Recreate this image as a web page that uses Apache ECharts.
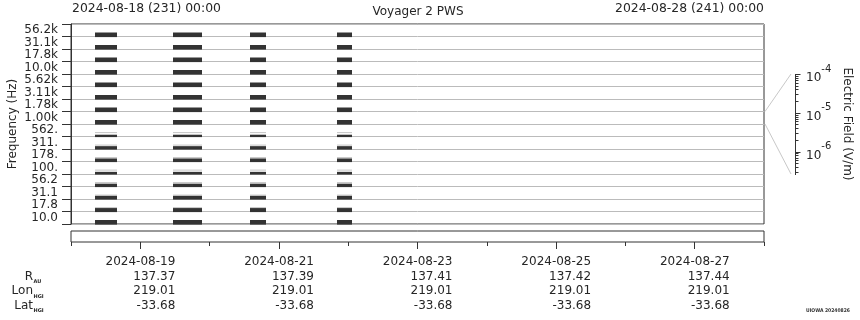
<!DOCTYPE html>
<html><head><meta charset="utf-8">
<script src="https://cdn.jsdelivr.net/npm/echarts@6/dist/echarts.min.js"></script>
<style>html,body{margin:0;padding:0;background:#fff}#c{width:860px;height:320px}</style>
</head><body><div id="c"></div>
<script>
// ---- data ----
const channels = ['10.0','17.8','31.1','56.2','100.','178.','311.','562.','1.00k','1.78k','3.11k','5.62k','10.0k','17.8k','31.1k','56.2k'];
// fraction of each channel's bin filled with strong signal (bottom -> top)
const channelLevel = [1, 0.9, 0.85, 0.75, 0.6, 0.8, 0.75, 0.5, 1, 1, 1, 1, 1, 1, 1, 1];
// data-coverage spans, in days after 2024-08-18 00:00
const spanStart = [0.346, 1.472, 2.583, 3.838];
const spanEnd   = [0.664, 1.890, 2.814, 4.055];
const labelDays = [1, 3, 5, 7, 9];
const dateLabels = ['2024-08-19','2024-08-21','2024-08-23','2024-08-25','2024-08-27'];
const rAU    = ['137.37','137.39','137.41','137.42','137.44'];
const lonHGI = ['219.01','219.01','219.01','219.01','219.01'];
const latHGI = ['-33.68','-33.68','-33.68','-33.68','-33.68'];
const headerLeft = '2024-08-18 (231) 00:00';
const headerRight = '2024-08-28 (241) 00:00';
const titleText = 'Voyager 2 PWS';
const rowNames = [['R','AU'],['Lon','HGI'],['Lat','HGI']];
const cbarExp = [-6, -5, -4];
const cbarMin = -6.58, cbarMax = -4;
const footText = 'UIOWA 20240826';

// ---- build ----
const FONT = "'DejaVu Sans', sans-serif";
const TXT = '#262626';
const seriesData = [];
for (let s = 0; s < spanStart.length; s++) {
  for (let c = 0; c < channels.length; c++) {
    seriesData.push([spanStart[s], spanEnd[s], c, channelLevel[c]]);
  }
}
const cbarMinor = [];
for (let n = -7; n <= -5; n++) {
  for (let k = 2; k <= 9; k++) {
    const v = n + Math.log10(k);
    if (v > cbarMin && v < cbarMax) cbarMinor.push(v);
  }
}
const CB_LEFT = 795;
const CB = {left: CB_LEFT, top: 74, width: 40, height: 100, show: false, containLabel: false, outerBoundsMode: 'none'};

const chart = echarts.init(document.getElementById('c'), null, {renderer: 'canvas'});
chart.setOption({
  animation: false,
  backgroundColor: '#fff',
  textStyle: {fontFamily: FONT},
  grid: [
    {left: 71, top: 24, width: 693, height: 200, show: true, borderColor: '#333', borderWidth: 1, backgroundColor: 'transparent', containLabel: false, outerBoundsMode: 'none'},
    {left: 71, top: 231, width: 693, height: 11, show: true, borderColor: '#333', borderWidth: 1, backgroundColor: 'transparent', containLabel: false, outerBoundsMode: 'none'},
    Object.assign({}, CB),
    Object.assign({}, CB)
  ],
  xAxis: [
    {gridIndex: 0, type: 'value', min: 0, max: 10, axisLine: {show: false}, axisTick: {show: false}, axisLabel: {show: false}, splitLine: {show: false}},
    {gridIndex: 1, type: 'value', min: 0, max: 10, interval: 1, position: 'bottom',
      axisLine: {show: false}, axisTick: {show: true, length: 4, lineStyle: {color: '#333'}},
      axisLabel: {show: false}, splitLine: {show: false}},
    {gridIndex: 1, type: 'value', min: 0, max: 10, position: 'bottom',
      axisLine: {show: false},
      axisTick: {show: true, length: 7, customValues: labelDays, lineStyle: {color: '#333'}},
      axisLabel: {show: true, customValues: labelDays, margin: 13, color: TXT, fontFamily: FONT, fontSize: 12,
        formatter: function (v) {
          const i = labelDays.indexOf(Math.round(v));
          if (i < 0) return '';
          return '{d|' + dateLabels[i] + '}\n{v|' + rAU[i] + '}\n{v|' + lonHGI[i] + '}\n{v|' + latHGI[i] + '}';
        },
        rich: {
          d: {width: 70, align: 'right', fontSize: 12, lineHeight: 14.5, color: TXT, fontFamily: FONT},
          v: {width: 70, align: 'right', fontSize: 12, lineHeight: 14.5, color: TXT, fontFamily: FONT}
        }},
      splitLine: {show: false}},
    {gridIndex: 2, type: 'value', min: 0, max: 1, show: false},
    {gridIndex: 3, type: 'value', min: 0, max: 1, show: false}
  ],
  yAxis: [
    {gridIndex: 0, type: 'category', data: channels, boundaryGap: true,
      axisLine: {show: true, onZero: false, lineStyle: {color: '#333'}},
      axisTick: {show: true, length: 9, interval: 0, lineStyle: {color: '#333'}},
      axisLabel: {interval: 0, margin: 13, fontSize: 12, color: TXT, fontFamily: FONT},
      splitLine: {show: true, interval: 0, lineStyle: {color: '#bbb', width: 1}},
      name: 'Frequency (Hz)', nameLocation: 'middle', nameGap: 52, nameMoveOverlap: false,
      nameTextStyle: {fontSize: 12, color: TXT, fontFamily: FONT}},
    {gridIndex: 1, type: 'value', show: false},
    {gridIndex: 2, type: 'value', min: cbarMin, max: cbarMax, position: 'left',
      axisLine: {show: false, onZero: false},
      axisTick: {show: false},
      axisLabel: {show: true, inside: true, customValues: cbarExp, margin: 11, color: TXT,
        formatter: function (v) { return '{b|10}{s|' + Math.round(v) + '}'; },
        rich: {
          b: {fontSize: 12, lineHeight: 10, verticalAlign: 'bottom', color: TXT, fontFamily: FONT},
          s: {fontSize: 10, lineHeight: 20, verticalAlign: 'top', color: TXT, fontFamily: FONT}
        }},
      splitLine: {show: false}},
    {gridIndex: 3, type: 'value', min: cbarMin, max: cbarMax, position: 'right',
      axisLine: {show: false, onZero: false}, axisTick: {show: false}, axisLabel: {show: false}, splitLine: {show: false},
      name: 'Electric Field (V/m)', nameLocation: 'middle', nameRotate: -90, nameGap: 6, nameMoveOverlap: false,
      nameTextStyle: {fontSize: 12, color: TXT, fontFamily: FONT}}
  ],
  series: [{
    type: 'custom',
    xAxisIndex: 0, yAxisIndex: 0,
    encode: {x: [0, 1], y: 2},
    data: seriesData,
    renderItem: function (params, api) {
      const p0 = api.coord([api.value(0), api.value(2)]);
      const p1 = api.coord([api.value(1), api.value(2)]);
      const bandH = api.size([0, 1])[1];
      const full = 4.6;
      const lvl = api.value(3);
      const h = Math.max(2.4, full * lvl);
      const bottom = p0[1] + bandH / 2 + 0.6;
      const kids = [{
        type: 'rect',
        shape: {x: p0[0], y: bottom - h, width: p1[0] - p0[0], height: h},
        style: {fill: '#333'}
      }];
      if (lvl < 1) {
        kids.push({
          type: 'rect',
          shape: {x: p0[0], y: bottom - full - 0.4, width: p1[0] - p0[0], height: 1},
          style: {fill: '#c4c4c4'}
        });
      }
      return {type: 'group', children: kids};
    }
  }]
});

// ---- decorations ----
const ya = chart.convertToPixel({yAxisIndex: 0}, '1.00k');
const yb = chart.convertToPixel({yAxisIndex: 0}, '1.78k');
const yc = chart.convertToPixel({yAxisIndex: 0}, '562.');
const bTop = (ya + yb) / 2, bBot = (ya + yc) / 2;
const xR = chart.convertToPixel({xAxisIndex: 0}, 10) + 1;
const cTop = chart.convertToPixel({yAxisIndex: 2}, cbarMax);
const cBot = chart.convertToPixel({yAxisIndex: 2}, cbarMin);
const axX = CB_LEFT + 0.5;
const cX = 791;
const rowY0 = 242 + 13 + 14.5 * 1.5;
const snap = function (v) { return Math.round(v) + 0.5; };

const g = [
  {type: 'text', x: 72, y: 9, style: {text: headerLeft, fontSize: 12.4, fontFamily: FONT, fill: TXT, align: 'left', verticalAlign: 'middle'}},
  {type: 'text', x: 764, y: 9, style: {text: headerRight, fontSize: 12.4, fontFamily: FONT, fill: TXT, align: 'right', verticalAlign: 'middle'}},
  {type: 'text', x: 418, y: 12, style: {text: titleText, fontSize: 12, fontFamily: FONT, fill: TXT, align: 'center', verticalAlign: 'middle'}},
  {type: 'line', shape: {x1: xR, y1: bTop, x2: cX, y2: cTop}, style: {stroke: '#c8c8c8', lineWidth: 1}},
  {type: 'line', shape: {x1: xR, y1: bBot, x2: cX, y2: cBot}, style: {stroke: '#c8c8c8', lineWidth: 1}},
  {type: 'line', z: 100, shape: {x1: axX, y1: snap(cTop) - 0.5, x2: axX, y2: snap(cBot) + 0.5}, style: {stroke: '#333', lineWidth: 1}},
  {type: 'text', x: 806, y: 311, style: {text: footText, fontSize: 5, fontWeight: 'bold', fontFamily: "'DejaVu Sans Condensed', 'Liberation Sans Narrow', sans-serif", fill: '#333', align: 'left', verticalAlign: 'middle'}}
];
cbarExp.forEach(function (v) {
  const y = snap(chart.convertToPixel({yAxisIndex: 2}, v));
  g.push({type: 'line', z: 100, shape: {x1: axX, y1: y, x2: axX + 5, y2: y}, style: {stroke: '#333', lineWidth: 1}});
});
cbarMinor.forEach(function (v) {
  const y = snap(chart.convertToPixel({yAxisIndex: 2}, v));
  g.push({type: 'line', z: 100, shape: {x1: axX, y1: y, x2: axX + 3, y2: y}, style: {stroke: '#333', lineWidth: 1}});
});
rowNames.forEach(function (r, i) {
  const y = rowY0 + 14.5 * i;
  g.push({type: 'text', x: 33, y: y, style: {text: r[0], fontSize: 12, fontFamily: FONT, fill: TXT, align: 'right', verticalAlign: 'middle'}});
  g.push({type: 'text', x: 33.5, y: y + 5, style: {text: r[1], fontSize: 5, fontWeight: 'bold', fontFamily: FONT, fill: TXT, align: 'left', verticalAlign: 'middle'}});
});
chart.setOption({graphic: g});
</script>
</body></html>
